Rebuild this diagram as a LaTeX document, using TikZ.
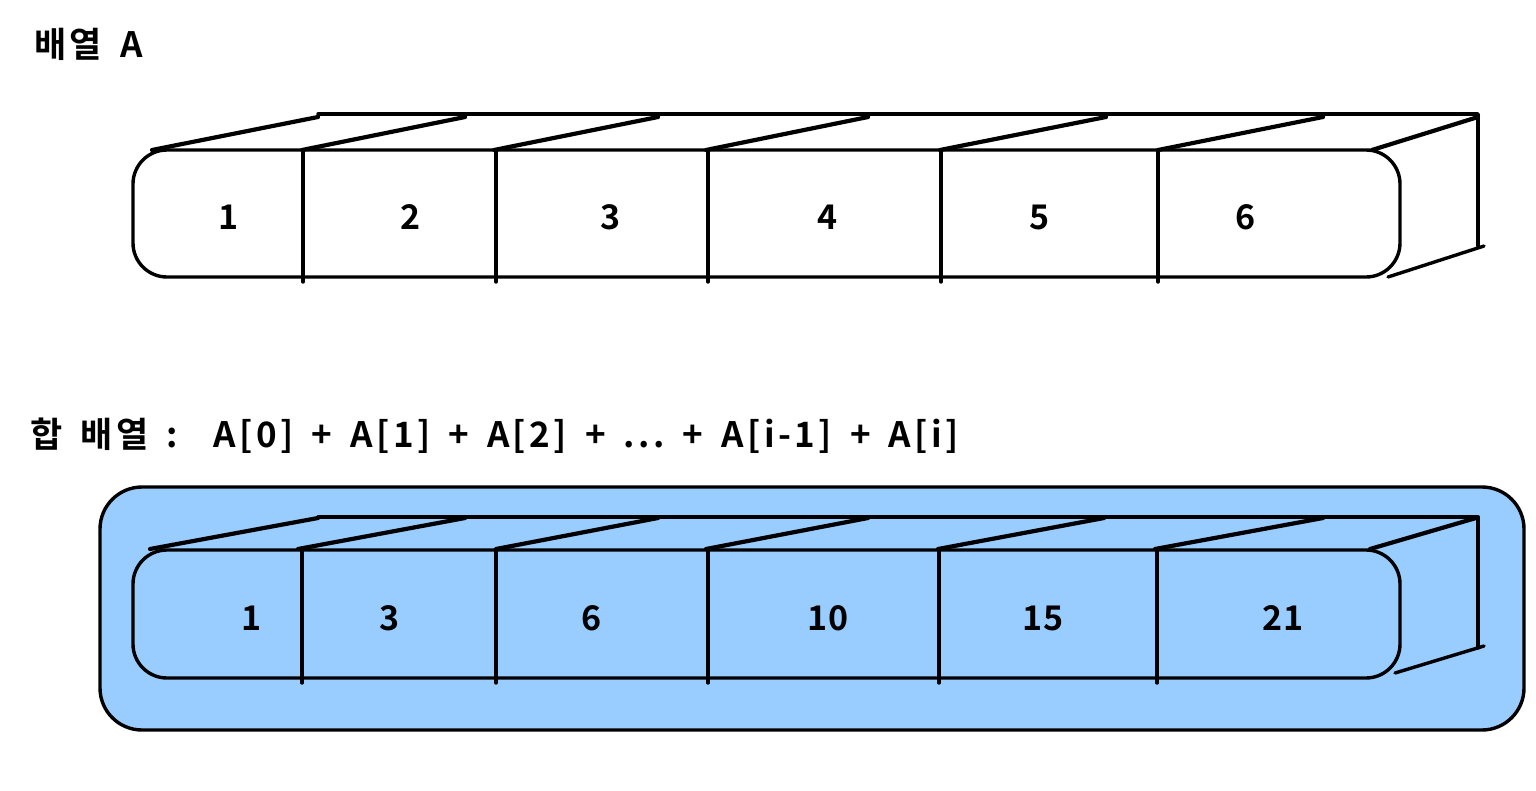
\documentclass[tikz,border=0pt]{standalone}
\usepackage{fontspec}
\setmainfont{Noto Sans CJK KR}[BoldFont={Noto Sans CJK KR Bold}]
\usetikzlibrary{positioning}
\definecolor{sumblue}{RGB}{153,204,255}
\newcommand{\gap}{\hspace{18pt}}

\begin{document}
\begin{tikzpicture}[x=1pt, y=-1pt,
  edge/.style={line width=3.4pt, line cap=round, line join=round},
  slant/.style={line width=4.2pt, line cap=round},
  num/.style={font=\fontsize{34}{36}\selectfont\bfseries},
  title/.style={anchor=west, inner sep=0pt,
    font=\fontsize{35}{37}\selectfont\bfseries\addfontfeatures{LetterSpace=10}}]
\useasboundingbox (0,0) rectangle (1536,790);

% labels
\node (ta) [title] at (34,44) {배열\gap A};
\node (tb) [title] at (30,436)
  {합\gap 배열\gap :\gap\gap A[0]\gap +\gap A[1]\gap +\gap A[2]\gap +\gap ...\gap +\gap A[i-1]\gap +\gap A[i]};

% array A
\draw[edge] (318,114) -- (1478,114) -- (1478,246);
\draw[edge] (1388,277) -- (1484,246);
\draw[edge, rounded corners=34pt] (133,150) rectangle (1400,277);
\foreach \xa/\xb in {152/318, 302/465, 494/658, 706/868, 940/1106, 1158/1323, 1372/1478}
  \draw[slant] (\xa,150) -- (\xb,117);
\foreach \x in {303, 496, 708, 941, 1158}
  \draw[edge] (\x,150) -- (\x,282);
\foreach \x/\v [count=\i] in {229/1, 411/2, 611/3, 828/4, 1040/5, 1246/6}
  \node (a\i) [num] at (\x,217) {\v};

% sum array
\draw[edge, fill=sumblue, rounded corners=42pt] (100,487) rectangle (1524,730);
\draw[edge] (318,517) -- (1478,517) -- (1478,648);
\draw[edge] (1395,673) -- (1484,646);
\draw[edge, rounded corners=34pt] (133,550) rectangle (1400,678);
\foreach \xa/\xb in {150/318, 298/465, 496/658, 706/868, 938/1104, 1155/1323, 1370/1476}
  \draw[slant] (\xa,549) -- (\xb,518);
\foreach \x in {302, 496, 708, 939, 1157}
  \draw[edge] (\x,550) -- (\x,683);
\foreach \x/\v [count=\i] in {252/1, 390/3, 592/6, 828/10, 1043/15, 1283/21}
  \node (s\i) [num] at (\x,618) {\v};
\end{tikzpicture}
\end{document}
